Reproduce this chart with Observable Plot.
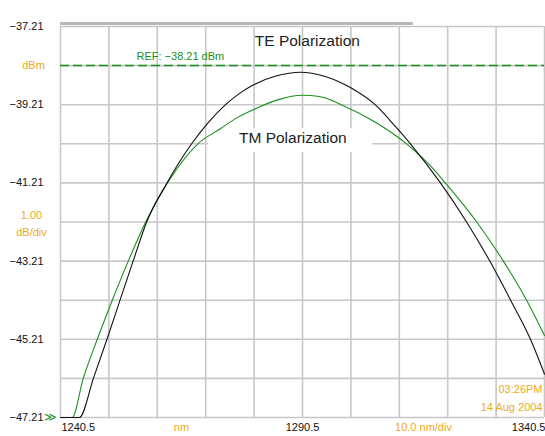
<!DOCTYPE html>
<html>
<head>
<meta charset="utf-8">
<script src="https://cdn.jsdelivr.net/npm/d3@7"></script>
<script src="https://cdn.jsdelivr.net/npm/@observablehq/plot@0.6"></script>
<style>
  html, body { margin: 0; padding: 0; background: #fff; }
  svg { display: block; }
</style>
</head>
<body>
<div id="chart"></div>
<script>
// Wavelength grid (nm) and level grid (dBm)
const xTicks = [1240.5, 1250.5, 1260.5, 1270.5, 1280.5, 1290.5, 1300.5, 1310.5, 1320.5, 1330.5, 1340.5];
const yTicks = [-37.21, -38.21, -39.21, -40.21, -41.21, -42.21, -43.21, -44.21, -45.21, -46.21, -47.21];
const yLabelValues = [-37.21, -39.21, -41.21, -43.21, -45.21, -47.21];
const refLevel = -38.21;

// TE polarization trace (black)
const teNm  = [1240.5, 1244.4, 1247.3, 1250.1, 1252.8, 1255.5, 1258.3, 1262.5, 1267.6, 1270.8, 1274.6, 1277.5, 1280.4, 1285.2, 1290.1, 1295.0, 1300.4, 1305.5, 1309.5, 1312.8, 1319.0, 1324.4, 1329.2, 1333.5, 1337.6, 1340.5];
const teDbm = [-47.21, -47.21, -46.21, -45.21, -44.21, -43.21, -42.21, -41.21, -40.21, -39.70, -39.21, -38.92, -38.70, -38.47, -38.38, -38.48, -38.77, -39.21, -39.74, -40.21, -41.21, -42.21, -43.21, -44.21, -45.21, -46.10];

// TM polarization trace (green)
const tmNm  = [1240.5, 1242.9, 1245.2, 1248.1, 1251.2, 1254.5, 1258.1, 1262.6, 1268.9, 1273.6, 1277.0, 1281.0, 1285.5, 1290.5, 1294.0, 1298.5, 1306.0, 1312.0, 1316.9, 1320.0, 1326.5, 1332.0, 1336.8, 1340.5];
const tmDbm = [-47.21, -47.21, -46.21, -45.21, -44.21, -43.21, -42.21, -41.21, -40.21, -39.82, -39.54, -39.30, -39.08, -38.97, -39.00, -39.21, -39.69, -40.21, -40.77, -41.21, -42.21, -43.21, -44.21, -45.11];

const te = teNm.map((x, i) => ({x, y: teDbm[i]}));
const tm = tmNm.map((x, i) => ({x, y: tmDbm[i]}));

const orange = "#eeaa22";
const green = "#1a8f1a";
const gridColor = "#c8c8c8";
const font = "'Liberation Sans', Arial, sans-serif";

const chart = Plot.plot({
  width: 545,
  height: 436,
  marginLeft: 60,
  marginRight: 1,
  marginTop: 26,
  marginBottom: 19,
  style: {fontFamily: font, background: "#fff", overflow: "visible"},
  x: {domain: [1240.5, 1340.5], axis: null},
  y: {domain: [-47.21, -37.21], axis: null},
  marks: [
    // grid
    Plot.ruleX(xTicks, {stroke: gridColor, strokeWidth: 1.6}),
    Plot.ruleY(yTicks, {stroke: gridColor, strokeWidth: 1.6}),
    // top gray bar
    Plot.ruleY([-37.21], {x1: 1240.5, x2: 1313.4, dy: -3, stroke: "#b8b8b8", strokeWidth: 3}),
    // white box behind TM label
    Plot.rect([0], {x1: 1271.1, x2: 1305.0, y1: -39.82, y2: -40.43, fill: "#fff"}),
    // reference line
    Plot.ruleY([refLevel], {stroke: green, strokeWidth: 1.5, strokeDasharray: "9,4"}),
    Plot.text([refLevel], {y: d => d, x: 1256.2, text: d => `REF: \u221238.21 dBm`, textAnchor: "start", dy: -9, fill: green, fontSize: 11}),
    // traces
    Plot.line(tm, {x: "x", y: "y", stroke: green, strokeWidth: 1.1, curve: "monotone-x"}),
    Plot.line(te, {x: "x", y: "y", stroke: "#111", strokeWidth: 1.1, curve: "monotone-x"}),
    // annotations
    Plot.text(["TE Polarization"], {x: 1291.5, y: -37.57, text: d => d, fontSize: 15.5, fill: "#222"}),
    Plot.text(["TM Polarization"], {x: 1288.5, y: -40.07, text: d => d, fontSize: 15.5, fill: "#222"}),
    // y tick labels
    Plot.text(yLabelValues, {y: d => d, text: d => d.toFixed(2).replace("-", "\u2212"), frameAnchor: "left", dx: -17, textAnchor: "end", fontSize: 11, fill: "#111"}),
    Plot.text([-47.21], {y: d => d, text: () => "\u226B", frameAnchor: "left", dx: -10, textAnchor: "middle", fontSize: 12, fill: green}),
    Plot.text([refLevel], {y: d => d, text: () => "dBm", frameAnchor: "left", dx: -27, textAnchor: "middle", fontSize: 11, fill: orange}),
    Plot.text([-42.21], {y: d => d, text: () => "1.00\ndB/div", frameAnchor: "left", dx: -29, textAnchor: "middle", fontSize: 11, lineHeight: 1.5, fill: orange}),
    // x tick labels
    Plot.text([xTicks[0]], {x: d => d, text: d => d.toFixed(1), frameAnchor: "bottom", dy: 13, dx: 1, textAnchor: "start", fontSize: 11, fill: "#111"}),
    Plot.text([xTicks[5]], {x: d => d, text: d => d.toFixed(1), frameAnchor: "bottom", dy: 13, textAnchor: "middle", fontSize: 11, fill: "#111"}),
    Plot.text([xTicks[10]], {x: d => d, text: d => d.toFixed(1), frameAnchor: "bottom", dy: 13, dx: 1, textAnchor: "end", fontSize: 11, fill: "#111"}),
    Plot.text([1265.5], {x: d => d, text: () => "nm", frameAnchor: "bottom", dy: 13, textAnchor: "middle", fontSize: 11, fill: orange}),
    Plot.text([1315.5], {x: d => d, text: () => "10.0 nm/div", frameAnchor: "bottom", dy: 13, textAnchor: "middle", fontSize: 11, fill: orange}),
    // timestamp
    Plot.text(["03:26PM"], {text: d => d, frameAnchor: "bottom-right", dx: -2, dy: -25, textAnchor: "end", fontSize: 11, fill: orange}),
    Plot.text(["14 Aug 2004"], {text: d => d, frameAnchor: "bottom-right", dx: -2, dy: -7, textAnchor: "end", fontSize: 11, fill: orange})
  ]
});
document.getElementById("chart").append(chart);
</script>
</body>
</html>
